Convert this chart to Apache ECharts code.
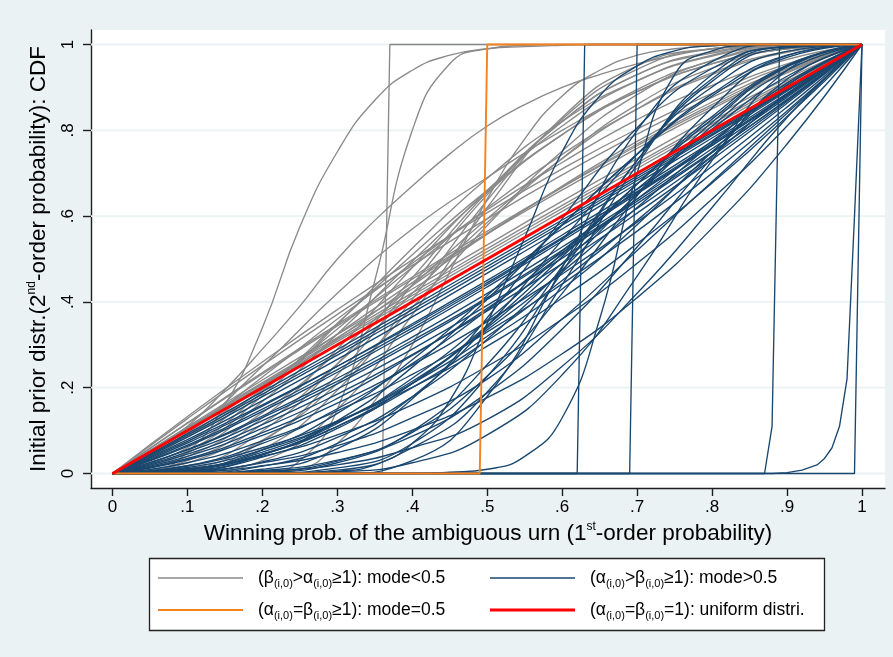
<!DOCTYPE html>
<html>
<head>
<meta charset="utf-8">
<script src="https://cdn.jsdelivr.net/npm/echarts@6/dist/echarts.min.js"></script>
<style>
  html, body { margin: 0; padding: 0; background: #eaf2f3; }
  #chart { width: 893px; height: 657px; }
</style>
</head>
<body>
<div id="chart"></div>
<script>
// Axis ticks and their printed labels
const xTicks = [0, 0.1, 0.2, 0.3, 0.4, 0.5, 0.6, 0.7, 0.8, 0.9, 1];
const xTickText = ['0', '.1', '.2', '.3', '.4', '.5', '.6', '.7', '.8', '.9', '1'];
const yTicks = [0, 0.2, 0.4, 0.6, 0.8, 1];
const yTickText = ['0', '.2', '.4', '.6', '.8', '1'];

// Sampling points for the prior CDFs
const xCoarse = [0, 0.1, 0.2, 0.3, 0.4, 0.5, 0.6, 0.7, 0.8, 0.9, 1];
const xFine = [0, 0.05, 0.1, 0.15, 0.2, 0.25, 0.3, 0.35, 0.4, 0.45, 0.5,
               0.55, 0.6, 0.65, 0.7, 0.75, 0.8, 0.85, 0.9, 0.95, 1];

// beta > alpha >= 1 (mode < 0.5), values at xCoarse
const grayCoarse = [
  [0, .109, .218, .324, .430, .533, .635, .734, .830, .921, 1],
  [0, .118, .235, .348, .458, .565, .667, .764, .855, .937, 1],
  [0, .133, .260, .382, .498, .608, .710, .803, .886, .955, 1],
  [0, .105, .209, .312, .415, .517, .618, .718, .815, .911, 1],
  [0, .074, .197, .337, .481, .619, .744, .849, .930, .982, 1],
  [0, .052, .181, .348, .525, .688, .821, .916, .973, .996, 1],
  [0, .016, .099, .256, .456, .656, .821, .930, .983, .999, 1],
  [0, .005, .056, .194, .406, .637, .826, .942, .990, 1, 1],
  [0, .090, .205, .325, .445, .560, .668, .768, .860, .940, 1],
  [0, .040, .142, .282, .438, .594, .734, .850, .934, .984, 1],
  [0, .012, .078, .210, .387, .578, .752, .883, .963, .995, 1],
  [0, .001, .030, .150, .370, .620, .830, .950, .990, 1, 1],
  [0, .085, .195, .315, .438, .558, .670, .774, .866, .944, 1],
  [0, .030, .130, .290, .480, .660, .810, .915, .975, .997, 1],
  [0, .103, .205, .308, .409, .510, .611, .711, .809, .907, 1],
  [0, .107, .212, .317, .421, .524, .625, .724, .821, .915, 1],
  [0, .117, .232, .344, .453, .559, .661, .758, .850, .934, 1],
  [0, .128, .252, .371, .485, .594, .696, .791, .877, .950, 1],
  [0, .095, .250, .420, .570, .690, .800, .890, .955, .990, 1],
  [0, .008, .075, .230, .440, .650, .820, .930, .980, .998, 1],
  [0, .048, .168, .325, .495, .655, .790, .895, .962, .994, 1],
  [0, .095, .225, .360, .490, .615, .725, .825, .905, .965, 1],
  [0, .060, .190, .350, .510, .660, .790, .890, .955, .990, 1],
  [0, .025, .115, .255, .420, .585, .735, .860, .945, .990, 1]
];
// beta > alpha >= 1, steeper ones, values at xFine
const grayFine = [
  [0, .005, .05, .16, .34, .575, .75, .87, .94, .975, .99, .995, .998, 1, 1, 1, 1, 1, 1, 1, 1],
  [0, .05, .11, .195, .29, .39, .5, .59, .67, .745, .81, .86, .9, .93, .955, .975, .99, .995, 1, 1, 1],
  [0, 0, 0, 0, 0, .03, .15, .45, .80, .955, .99, .998, 1, 1, 1, 1, 1, 1, 1, 1, 1],
  [0, 0, 0, 0, 0, .01, .07, .17, .30, .47, .64, .78, .88, .94, .975, .99, .997, 1, 1, 1, 1]
];
const graySteps = [
  [[0, 0], [0.36, 0], [0.37, 1], [1, 1]]
];

// alpha > beta >= 1 (mode > 0.5), values at xCoarse
const blueCoarse = [
  [0, .079, .170, .266, .365, .467, .570, .676, .782, .891, 1],
  [0, .063, .145, .236, .333, .435, .542, .652, .765, .882, 1],
  [0, .045, .114, .197, .290, .392, .502, .618, .740, .867, 1],
  [0, .032, .089, .164, .253, .354, .465, .586, .716, .854, 1],
  [0, .018, .060, .122, .201, .297, .409, .536, .677, .832, 1],
  [0, .010, .040, .090, .160, .250, .360, .490, .640, .810, 1],
  [0, .004, .027, .084, .179, .313, .475, .652, .819, .948, 1],
  [0, .001, .017, .070, .179, .344, .544, .744, .901, .984, 1],
  [0, 0, .010, .058, .174, .363, .594, .806, .944, .995, 1],
  [0, .018, .070, .151, .256, .381, .519, .663, .803, .926, 1],
  [0, .089, .185, .282, .382, .483, .585, .688, .791, .895, 1],
  [0, .014, .055, .120, .210, .320, .450, .590, .740, .885, 1],
  [0, .055, .130, .215, .310, .410, .520, .635, .750, .870, 1],
  [0, .006, .043, .123, .248, .406, .579, .744, .880, .970, 1],
  [0, 0, .003, .025, .099, .254, .483, .730, .914, .992, 1],
  [0, 0, 0, .008, .060, .190, .440, .720, .930, .995, 1],
  [0, .005, .025, .065, .130, .220, .360, .520, .680, .840, 1],
  [0, 0, .005, .020, .060, .126, .250, .420, .620, .830, 1],
  [0, 0, 0, 0, .030, .180, .480, .800, .960, 1, 1],
  [0, .071, .157, .250, .349, .450, .556, .663, .774, .886, 1],
  [0, .008, .045, .117, .222, .357, .513, .675, .826, .950, 1],
  [0, .056, .134, .222, .318, .420, .528, .640, .757, .877, 1],
  [0, .010, .050, .120, .215, .335, .470, .620, .770, .910, 1],
  [0, .003, .018, .049, .101, .177, .279, .410, .572, .768, 1],
  [0, 0, .001, .013, .070, .226, .470, .730, .920, .995, 1],
  [0, 0, .007, .031, .087, .188, .337, .528, .737, .919, 1],
  [0, 0, .005, .029, .096, .227, .420, .647, .852, .974, 1],
  [0, 0, 0, .004, .025, .090, .230, .460, .730, .940, 1],
  [0, .093, .191, .289, .389, .490, .591, .693, .795, .897, 1],
  [0, .085, .179, .276, .375, .476, .579, .683, .788, .893, 1],
  [0, .066, .150, .242, .339, .441, .547, .657, .769, .883, 1],
  [0, .050, .123, .209, .304, .406, .515, .629, .748, .872, 1],
  [0, .040, .105, .185, .277, .379, .489, .607, .732, .863, 1],
  [0, .025, .076, .146, .231, .330, .442, .565, .700, .845, 1],
  [0, .010, .045, .110, .200, .310, .430, .580, .750, .905, 1],
  [0, .006, .038, .105, .210, .345, .505, .675, .832, .952, 1],
  [0, .035, .095, .175, .275, .385, .510, .640, .775, .905, 1],
  [0, .010, .045, .110, .210, .340, .490, .650, .810, .940, 1],
  [0, .010, .055, .140, .265, .415, .580, .745, .885, .975, 1],
  [0, .075, .160, .250, .345, .445, .550, .655, .765, .880, 1]
];
// alpha > beta >= 1, steeper ones, values at xFine
const blueFine = [
  [0, 0, 0, 0, 0, 0, .005, .02, .07, .17, .35, .55, .75, .88, .95, .985, .997, 1, 1, 1, 1],
  [0, 0, 0, 0, 0, 0, 0, 0, 0, .003, .01, .04, .13, .36, .70, .93, .985, .998, 1, 1, 1]
];
const blueSteps = [
  [[0, 0], [0.62, 0], [0.63, 1], [1, 1]],
  [[0, 0], [0.69, 0], [0.70, 1], [1, 1]],
  [[0, 0], [0.87, 0], [0.88, 0.11], [0.89, 1], [1, 1]],
  [[0, 0], [0.88, 0], [0.90, 0.002], [0.92, 0.008], [0.94, 0.02], [0.95, 0.035],
   [0.96, 0.06], [0.97, 0.11], [0.98, 0.22], [0.99, 0.6], [1, 1]],
  [[0, 0], [0.99, 0], [1, 1]]
];

// alpha = beta >= 1 (mode 0.5) and the uniform prior
const orangeStep = [[0, 0], [0.49, 0], [0.50, 1], [1, 1]];
const uniformCdf = [[0, 0], [1, 1]];

const FONT = 'Liberation Sans, Arial, Helvetica, sans-serif';
const X_MIN = -0.0287, X_MAX = 1.0307;
const Y_MIN = -0.0338, Y_MAX = 1.0338;

const COLORS = {
  gray: '#8a8a8a',
  blue: '#1a476f',
  orange: '#f5821f',
  red: '#ff0000',
  grid: '#eaf2f3',
  axis: '#1e1e1e'
};

const NAMES = { gray: 'modeLow', blue: 'modeHigh', orange: 'modeHalf', red: 'uniform' };
const legendText = {
  modeLow: '(β{s|(i,0)}>α{s|(i,0)}≥1): mode<0.5',
  modeHigh: '(α{s|(i,0)}>β{s|(i,0)}≥1): mode>0.5',
  modeHalf: '(α{s|(i,0)}=β{s|(i,0)}≥1): mode=0.5',
  uniform: '(α{s|(i,0)}=β{s|(i,0)}=1): uniform distri.'
};

function zip(xs, ys) { return ys.map((y, i) => [xs[i], y]); }

function curve(name, color, data, width, smooth) {
  return {
    type: 'line', name, color, data,
    showSymbol: false, symbol: 'none', silent: true,
    smooth: smooth ? 0.5 : false,
    lineStyle: { color, width },
    emphasis: { disabled: true }
  };
}

const series = [];
// horizontal grid lines at the y ticks
yTicks.forEach(v => {
  series.push({
    type: 'line', name: 'grid', data: [[X_MIN, v], [X_MAX, v]],
    symbol: 'none', silent: true,
    lineStyle: { color: COLORS.grid, width: 1.8 }
  });
});
const THIN = 1.35;
graySteps.forEach(d => series.push(curve(NAMES.gray, COLORS.gray, d, THIN, false)));
grayCoarse.forEach(ys => series.push(curve(NAMES.gray, COLORS.gray, zip(xCoarse, ys), THIN, true)));
grayFine.forEach(ys => series.push(curve(NAMES.gray, COLORS.gray, zip(xFine, ys), THIN, true)));
blueCoarse.forEach(ys => series.push(curve(NAMES.blue, COLORS.blue, zip(xCoarse, ys), THIN, true)));
blueFine.forEach(ys => series.push(curve(NAMES.blue, COLORS.blue, zip(xFine, ys), THIN, true)));
blueSteps.forEach(d => series.push(curve(NAMES.blue, COLORS.blue, d, THIN, false)));
series.push(curve(NAMES.orange, COLORS.orange, orangeStep, 1.9, false));
series.push(curve(NAMES.red, COLORS.red, uniformCdf, 3, false));

const tickFmt = (ticks, texts) => v => {
  const i = ticks.findIndex(t => Math.abs(t - v) < 1e-6);
  return i >= 0 ? texts[i] : '';
};

const baseText = { color: '#000', fontFamily: FONT };
const legendRich = {
  s: { fontSize: 11, lineHeight: 11, verticalAlign: 'bottom', color: '#000', fontFamily: FONT }
};
function legendAt(name, left, top, thick) {
  return {
    left, top, padding: 0, data: [name], icon: 'rect',
    itemWidth: 85, itemHeight: thick, selectedMode: false,
    formatter: n => legendText[n],
    textStyle: Object.assign({ fontSize: 17.5, lineHeight: 22, padding: [0, 0, 0, 10], rich: legendRich }, baseText)
  };
}

const titleRich = {
  sup: { fontSize: 12, lineHeight: 12, verticalAlign: 'top', color: '#000', fontFamily: FONT }
};

const option = {
  animation: false,
  backgroundColor: '#eaf2f3',
  textStyle: { fontFamily: FONT },
  grid: {
    left: 91, right: 8, top: 30, bottom: 169,
    show: true, backgroundColor: '#ffffff', borderWidth: 0
  },
  xAxis: {
    type: 'value', min: X_MIN, max: X_MAX,
    axisLine: { onZero: false, lineStyle: { color: COLORS.axis, width: 1.4 } },
    axisTick: { customValues: xTicks, length: 8, lineStyle: { color: COLORS.axis, width: 1.4 } },
    axisLabel: Object.assign({ customValues: xTicks, formatter: tickFmt(xTicks, xTickText), fontSize: 17, margin: 11 }, baseText),
    splitLine: { show: false },
    name: 'Winning prob. of the ambiguous urn (1{sup|st}-order probability)',
    nameLocation: 'middle', nameGap: 31,
    nameTextStyle: Object.assign({ fontSize: 22.5, lineHeight: 26, rich: titleRich }, baseText)
  },
  yAxis: {
    type: 'value', min: Y_MIN, max: Y_MAX,
    axisLine: { show: true, onZero: false, lineStyle: { color: COLORS.axis, width: 1.4 } },
    axisTick: { show: true, customValues: yTicks, length: 8, lineStyle: { color: COLORS.axis, width: 1.4 } },
    axisLabel: Object.assign({ customValues: yTicks, formatter: tickFmt(yTicks, yTickText), fontSize: 17, margin: 14, rotate: 90 }, baseText),
    splitLine: { show: false },
    name: 'Initial prior distr.(2{sup|nd}-order probability): CDF',
    nameLocation: 'middle', nameGap: 36, nameRotate: 90,
    nameTextStyle: Object.assign({ fontSize: 22.5, lineHeight: 26, rich: titleRich }, baseText)
  },
  legend: [
    legendAt(NAMES.gray, 158, 567, 1.6),
    legendAt(NAMES.orange, 158, 599, 1.8),
    legendAt(NAMES.blue, 490, 567, 1.6),
    legendAt(NAMES.red, 490, 599, 3)
  ],
  graphic: [{
    type: 'rect', z: 0, silent: true,
    shape: { x: 149.5, y: 558.5, width: 675, height: 72 },
    style: { fill: '#ffffff', stroke: '#222222', lineWidth: 1.3 }
  }],
  series
};

const chart = echarts.init(document.getElementById('chart'), null, { renderer: 'canvas' });
chart.setOption(option);
</script>
</body>
</html>
